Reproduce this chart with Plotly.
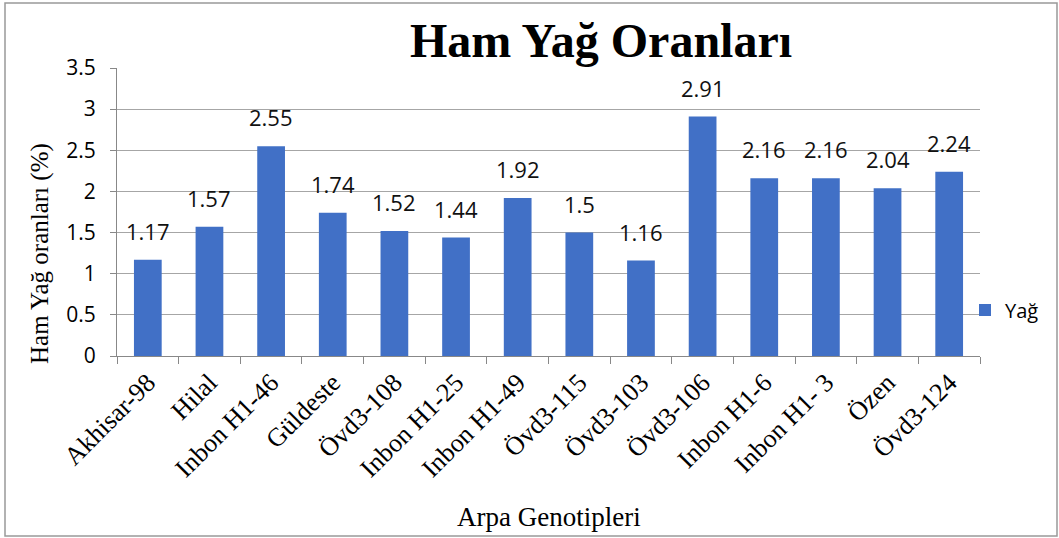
import plotly.graph_objects as go

genotypes = ["Akhisar-98", "Hilal", "Inbon H1-46", "Güldeste", "Övd3-108", "Inbon H1-25",
             "Inbon H1-49", "Övd3-115", "Övd3-103", "Övd3-106", "Inbon H1-6", "Inbon H1- 3",
             "Özen", "Övd3-124"]
yag = [1.17, 1.57, 2.55, 1.74, 1.52, 1.44, 1.92, 1.5, 1.16, 2.91, 2.16, 2.16, 2.04, 2.24]
y_ticks = [0, 0.5, 1, 1.5, 2, 2.5, 3, 3.5]

W, H = 1059, 538
L, R, T, B = 117, 79, 68, 182
pw, ph = W - L - R, H - T - B

fig = go.Figure(go.Bar(
    x=genotypes,
    y=yag,
    name="Yağ",
    marker=dict(color="#4170c6", line=dict(width=0)),
))

# data labels, a bit above the bars like Excel
for g, v in zip(genotypes, yag):
    fig.add_annotation(x=g, y=v, text=f"{v:g}", showarrow=False, yanchor="bottom", yshift=12,
                       font=dict(family="Open Sans, Liberation Sans", size=22, color="#111"))

# axis titles as annotations so they sit where the original has them
fig.add_annotation(text="Arpa Genotipleri", xref="paper", yref="paper", x=0.5, y=(H - B - 517) / ph,
                   yanchor="middle", showarrow=False,
                   font=dict(family="Liberation Serif", size=27, color="black"))
fig.add_annotation(text="Ham Yağ oranları (%)", xref="paper", yref="paper", x=(40 - L) / pw, y=(H - B - 254) / ph,
                   xanchor="center", yanchor="middle", textangle=-90, showarrow=False,
                   font=dict(family="Liberation Serif", size=25, color="black"))

fig.update_layout(
    width=W, height=H,
    margin=dict(l=L, r=R, t=T, b=B, autoexpand=False),
    paper_bgcolor="white",
    plot_bgcolor="white",
    bargap=0.55,
    title=dict(text="<b>Ham Yağ Oranları</b>", x=601 / W, xanchor="center",
               y=1 - 40 / H, yanchor="middle",
               font=dict(family="Liberation Serif", size=48, color="black")),
    showlegend=True,
    legend=dict(x=(965 - L) / pw, xanchor="left", y=(H - B - 310) / ph, yanchor="middle",
                font=dict(family="Open Sans, Liberation Sans", size=20, color="black"),
                bgcolor="rgba(0,0,0,0)"),
    xaxis=dict(
        automargin=False,
        tickangle=-45,
        tickfont=dict(family="Liberation Serif", size=26, color="black"),
        showline=True, linecolor="#888", linewidth=1,
        ticks="outside", tickson="boundaries", ticklen=7, tickcolor="#888",
        showgrid=False,
    ),
    yaxis=dict(
        automargin=False,
        range=[0, 3.5],
        tickvals=y_ticks,
        tickfont=dict(family="Open Sans, Liberation Sans", size=21, color="black"),
        ticklabelstandoff=10,
        showline=True, linecolor="#888", linewidth=1,
        showgrid=True, gridcolor="#a6a6a6", gridwidth=1,
        zeroline=False,
        ticks="outside", ticklen=6, tickcolor="#888",
    ),
    shapes=[dict(type="rect", xref="paper", yref="paper",
                 x0=(5 - L) / pw, x1=(1057 - L) / pw,
                 y0=(H - B - 536) / ph, y1=(H - B - 3) / ph,
                 line=dict(color="#999", width=1.5), fillcolor="rgba(0,0,0,0)", layer="below")],
)

fig.write_html("out.html", config={"displayModeBar": False},
               post_script="document.body.style.margin='0';")
